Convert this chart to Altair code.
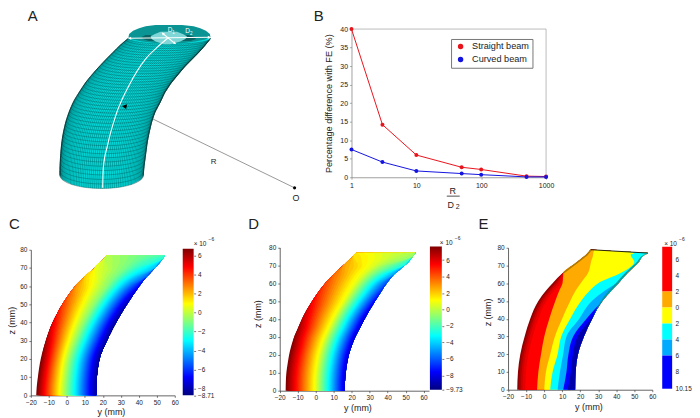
import numpy as np
import pandas as pd
import altair as alt

FONT = "Liberation Sans"
INK = "#222222"

# ---------- Panel B values ----------
b_ratio = [1, 3, 10, 50, 100, 500, 1000]
b_straight = [40, 14.2, 6.0, 2.7, 2.1, 0.3, 0.2]
b_curved = [7.5, 4.1, 1.7, 1.0, 0.7, 0.1, 0.1]

# ---------- Panel A outline (3x pixel units) ----------
a_rows = [108,130,150,170,190,210,240,270,300,330,360,390,420,450,480,505,522]
a_left = [388,362,342,322,303,285,260,240,222,209,199,192,187,184,182,181,181]
a_right = [636,618,600,580,560,543,518,498,484,468,458,451,445,441,437,434,433]
a_sag = [18,19,20,21,22,23,24,26,27,28,30,31,33,35,37,39,40]
a_foot_rows = [522,535,550,558,561,562]
a_foot_left = [181,188,217,252,280,307]
a_foot_right = [433,426,397,362,334,307]
a_top_rows = [68,72,78,85,95,105,112,118,124]
a_top_left = [470,440,420,402,390,388,400,430,480]
a_top_right = [550,585,605,622,634,636,620,590,545]
a_hole_rows = [88,95,102,110,118,126]
a_hole_left = [485,468,455,458,470,495]
a_hole_right = [535,552,565,560,545,515]
a_cres_rows = [98,104,110,116]
a_cres_left_l = [440,428,432,450]
a_cres_left_r = [455,462,470,468]
a_cres_right_l = [552,545,530,535]
a_cres_right_r = [570,588,592,575]
a_spine_x = [510,475,440,390,350,325,312,310]
a_spine_y = [105,135,170,250,340,430,500,560]

# ---------- Panels C and D: edges and field values per height ----------
z_rows = [0,5,10,15,20,25,30,35,40,45,50,55,60,65,70,75,77]
c_left = [-17,-16.7,-16.1,-15.4,-14.5,-13.2,-11.7,-10,-7.9,-5.4,-2.5,0.8,4.6,9.7,15.5,20.6,22.3]
c_right = [16.4,16.4,16.7,17.3,18.2,20,22.3,24.7,27.4,30.3,33.5,36.8,40.3,44.3,49,53.3,54.6]
c_vleft = [6.7,6.7,6.7,6.7,6.7,6.4,6,5.5,5,4.4,3.8,3.2,2.5,1.5,0.5,-0.2,-0.4]
c_vmid = [-1,-1,-1,-1,-1,-1,-1,-1,-1,-1,-1,-1,-1,-1.2,-1.2,-1.2,-1.2]
c_vright = [-8.5,-8.5,-8.5,-8.5,-8.5,-8.5,-8.5,-8.5,-8.5,-8.4,-8.2,-7.8,-7,-5.5,-4,-2.5,-2]
d_left = [-16.7,-16.6,-16.3,-15.6,-14.8,-13.6,-12,-9.8,-7.6,-5,-2,1.4,5.3,10,15.4,20.6,22.5]
d_right = [16.2,16.3,16.7,17.4,18.4,20,22,24.6,27.2,30,33,36.2,39.5,43.7,49.6,54,55.5]
d_vleft = [7.6,7.6,7.6,7.6,7.6,7.6,7.3,7,6.5,6,5.4,4.8,4.2,3.5,2.6,1.6,1.2]
d_vmid = [0.7,0.7,0.7,0.7,0.7,0.7,0.7,0.7,0.7,0.7,0.7,0.6,0.5,0.4,0.4,0.4,0.3]
d_vright = [-8.5,-8.5,-8.5,-8.5,-8.5,-8.5,-8.5,-8.5,-8.5,-8.2,-7.8,-7.2,-6.5,-5,-3,-0.8,-0.4]

# ---------- Panel E: contour positions per height ----------
e_z = [0,10,20,30,40,50,56,60,66,72,76,77,78,78.9]
e_left = [-14.9,-14.5,-13.2,-10.8,-7.7,-3.2,1.2,4.7,10.6,18.5,23.4,24.4,25.1,25.9]
e_orange = [-3.9,-3.2,-1.7,0.1,2.9,6.2,8.5,10.2,10.8,18.5,23.4,24.4,25.1,25.9]
e_yellow = [0.1,1,3.4,6,10,14.5,17.6,20.3,24.5,26,27.2,27.3,27.5,27.9]
e_cyan = [3.4,4.7,7.5,9.5,14.5,20.5,25.5,30,43,50,48,50,41,27.9]
e_lblue = [7.5,8.8,10.6,12.4,19.5,26.5,34,40,46.5,52.5,55.8,57.6,41,27.9]
e_blue = [10.6,12.4,13.5,16.1,23.5,32.3,37.5,41.2,46.5,52.5,55.8,57.6,41,27.9]
e_right = [17.2,17.5,18.8,22.1,26.7,32.3,37.5,41.2,46.5,52.5,55.8,57.6,41,27.9]
e_teal = [17.2,17.5,18.8,22.1,26.7,31.5,36,39.8,45.2,51.5,55.3,57.6,41,27.9]
e_top_y = [25.9, 57.6]
e_top_z = [78.9, 77]
e_edge_z = [66, 72, 76, 78.9]
e_edge_y = [10.9, 18.8, 23.7, 26.1]
e_bar_tops = [7.6, 2, 0, -2, -4, -6]
e_bar_bottoms = [2, 0, -2, -4, -6, -10.15]
e_bar_colors = ["#FF0000", "#FFAA00", "#FFFF00", "#00FFFF", "#00AAFF", "#0000FF"]


def jet(f):
    f = min(max(f, 0.0), 1.0)
    r = np.interp(f, [0, .375, .625, .875, 1], [0, 0, 1, 1, .5])
    g = np.interp(f, [0, .125, .375, .625, .875, 1], [0, 0, 1, 1, 0, 0])
    b = np.interp(f, [0, .125, .375, .625, 1], [.5, 1, 1, 0, 0])
    return "#%02x%02x%02x" % (int(r * 255), int(g * 255), int(b * 255))


JET_STOPS = [(0, "#00007f"), (.125, "#0000ff"), (.375, "#00ffff"),
             (.625, "#ffff00"), (.875, "#ff0000"), (1, "#7f0000")]


def field_table(left, right, vl, vm, vr, vmax, vmin):
    rows = []
    levels = np.arange(vmax, vmin - 0.01, -(vmax - vmin) / 60)
    for i, lev in enumerate(levels):
        col = jet((lev - vmin) / (vmax - vmin))
        for z, a, b, p, q, r in zip(z_rows, left, right, vl, vm, vr):
            f = float(np.interp(lev, [r, q, p], [1, .5, 0])) if lev >= r else 1.0
            rows.append({"z": z, "ya": a + (b - a) * f, "yb": b, "c": col})
    return pd.DataFrame(rows)


def z_axis(off, title_y, title_x):
    return alt.Axis(values=list(range(0, 81, 10)), title="z (mm)", offset=off,
                    titleY=title_y, titleX=title_x, grid=False)


def x_axis(title_x):
    return alt.Axis(values=list(range(-20, 61, 10)), title="y (mm)", titleX=title_x, grid=False)


def field_panel(df, w, h, xr, yr, xdom, title_x, title_y, off, ty_x):
    return alt.Chart(df).mark_area(orient="horizontal", strokeWidth=0, opacity=1, interpolate="monotone").encode(
        y=alt.Y("z:Q", scale=alt.Scale(domain=[0, 80], range=yr), axis=z_axis(off, title_y, ty_x)),
        x=alt.X("ya:Q", scale=alt.Scale(domain=xdom, range=xr), axis=x_axis(title_x), stack=None),
        x2="yb:Q",
        fill=alt.Fill("c:N", scale=None),
    ).properties(width=w, height=h)


def exponent(xt, yt):
    base = alt.Chart(pd.DataFrame({"a": [0]})).mark_text(
        text="× 10", font=FONT, fontSize=6.5, color=INK, align="left"
    ).encode(x=alt.value(xt), y=alt.value(yt))
    sup = alt.Chart(pd.DataFrame({"a": [0]})).mark_text(
        text="−6", font=FONT, fontSize=5, color=INK, align="left"
    ).encode(x=alt.value(xt + 15), y=alt.value(yt - 5))
    return base + sup


def jet_bar(w, h, yr, vmax, vmin, bar_w, ticks, off, xt, yt):
    grad = alt.Gradient(gradient="linear", x1=0, x2=0, y1=1, y2=0,
                        stops=[alt.GradientStop(color=c, offset=o) for o, c in JET_STOPS])
    bar = alt.Chart(pd.DataFrame({"lo": [vmin], "hi": [vmax]})).mark_rect(color=grad).encode(
        y=alt.Y("lo:Q", scale=alt.Scale(domain=[vmin, vmax], range=yr),
                axis=alt.Axis(orient="right", values=ticks, offset=off, title=None,
                              labelExpr="format(datum.value,'~g')", grid=False, domain=False)),
        y2="hi:Q",
        x=alt.value(0), x2=alt.value(bar_w),
    )
    return (bar + exponent(xt, yt)).properties(width=w, height=h)


def letter(t, x, y):
    return alt.Chart(pd.DataFrame({"a": [0]})).mark_text(
        text=t, font=FONT, fontSize=15, color=INK, align="left", baseline="alphabetic"
    ).encode(x=alt.value(x), y=alt.value(y))


# ---------- Panel A ----------
A_W, A_H = 302, 202
ax = alt.Scale(domain=[24, 24 + 3 * A_W], range=[0, A_W])
ay = alt.Scale(domain=[24, 24 + 3 * A_H], range=[0, A_H])
X = alt.X("x:Q", scale=ax, axis=None)
Y = alt.Y("y:Q", scale=ay, axis=None)


def a_area(rows, left, right, col, **kw):
    d = pd.DataFrame({"y": rows, "x": left, "x2": right})
    return alt.Chart(d).mark_area(orient="horizontal", color=col, strokeWidth=0, **kw).encode(
        y=Y, x=X, x2="x2:Q")


mesh_rows = []
ring_ys = []
yy = 522.0
while yy > 108:
    ring_ys.append(yy)
    yy -= 6.5 + 6.5 * (yy - 108) / 414
ring_ys.append(108.0)
thetas_long = np.linspace(0, np.pi, 66)
thetas_ring = np.linspace(0, np.pi, 26)


def a_pt(y0, th):
    l = np.interp(y0, a_rows, a_left)
    r = np.interp(y0, a_rows, a_right)
    s = np.interp(y0, a_rows, a_sag)
    return (l + r) / 2 + (r - l) / 2 * np.cos(th), y0 + s * np.sin(th)


k = 0
for y0 in ring_ys:
    for i, th in enumerate(thetas_ring):
        px, py = a_pt(y0, th)
        mesh_rows.append({"x": px, "y": py, "k": k, "o": i})
    k += 1
for th in thetas_long:
    for i, y0 in enumerate(ring_ys):
        px, py = a_pt(y0, th)
        mesh_rows.append({"x": px, "y": py, "k": k, "o": i})
    k += 1
mesh = alt.Chart(pd.DataFrame(mesh_rows)).mark_line(
    color="#004040", strokeWidth=0.42, opacity=0.8
).encode(x=X, y=Y, detail="k:N", order="o:Q")

body = a_area(a_rows + a_foot_rows[1:], a_left + a_foot_left[1:], a_right + a_foot_right[1:], "#00dcdc")
top = a_area(a_top_rows, a_top_left, a_top_right, "#0b9494")
hole = a_area(a_hole_rows, a_hole_left, a_hole_right, "#7fd6d6")
cres_l = a_area(a_cres_rows, a_cres_left_l, a_cres_left_r, "#0a6262")
cres_r = a_area(a_cres_rows, a_cres_right_l, a_cres_right_r, "#0a6262")


def a_line(xs, ys, col, w, interp="linear"):
    d = pd.DataFrame({"x": xs, "y": ys, "o": range(len(xs))})
    return alt.Chart(d).mark_line(color=col, strokeWidth=w, interpolate=interp).encode(x=X, y=Y, order="o:Q")


def a_marker(xs, ys, shape, col, size, angle=0):
    d = pd.DataFrame({"x": xs, "y": ys})
    return alt.Chart(d).mark_point(shape=shape, filled=True, color=col, size=size, angle=angle, opacity=1).encode(x=X, y=Y)


def a_text(t, x, y, size, col):
    d = pd.DataFrame({"x": [x], "y": [y]})
    return alt.Chart(d).mark_text(text=t, font=FONT, fontSize=size, color=col).encode(x=X, y=Y)


panel_a = alt.layer(
    body, mesh, top, cres_l, cres_r, hole,
    a_line(a_left, a_rows, "#052e2e", 0.8, "monotone"),
    a_line(a_right, a_rows, "#052e2e", 0.5, "monotone"),
    a_line(a_spine_x, a_spine_y, "white", 1.1, "monotone"),
    a_line([388, 636], [108, 105], "white", 1.1),
    a_line([490, 530], [92, 125], "white", 1.1),
    a_marker([392], [108], "triangle-left", "white", 10),
    a_marker([632], [105], "triangle-right", "white", 10),
    a_marker([492], [94], "triangle-up", "white", 10, 310),
    a_marker([528], [123], "triangle-down", "white", 10, 310),
    a_text("D", 514, 84, 6.5, "white"), a_text("1", 524, 92, 4.5, "white"),
    a_text("D", 567, 87, 6.5, "white"), a_text("2", 578, 96, 4.5, "white"),
    a_line([462, 890], [352, 560], "#8c8c8c", 0.9),
    a_marker([890], [560], "circle", "black", 10),
    a_marker([378], [314], "triangle", "black", 28, 160),
    a_text("R", 645, 482, 8, INK),
    a_text("O", 894, 590, 9, INK),
    letter("A", 20, 11),
).properties(width=A_W, height=A_H)

# ---------- Panel B ----------
B_W, B_H = 240, 168
b_df = pd.DataFrame({
    "r": b_ratio * 2,
    "v": b_straight + b_curved,
    "s": ["Straight beam"] * 7 + ["Curved beam"] * 7,
})
bx = alt.X("r:Q", scale=alt.Scale(type="log", domain=[1, 1000], range=[44, 240]),
           axis=alt.Axis(values=[1, 10, 100, 1000], format="d", title=None, grid=False,
                         domainColor="#777777", tickColor="#777777", labelFontSize=7))
by = alt.Y("v:Q", scale=alt.Scale(domain=[0, 40], range=[168, 18.7]),
           axis=alt.Axis(values=list(range(0, 41, 5)), title="Percentage difference with FE (%)",
                         offset=-44, grid=False, titleFontSize=9.2, titleX=-17.7,
                         domainColor="#777777", tickColor="#777777", labelFontSize=7))
bc = alt.Color("s:N", scale=alt.Scale(domain=["Straight beam", "Curved beam"], range=["#e8141c", "#1414e0"]),
               legend=alt.Legend(title=None, orient="none", legendX=446.3, legendY=28.7,
                                 strokeColor="#777777", fillColor="white", padding=3,
                                 labelFont=FONT, labelFontSize=9.2, labelColor=INK, symbolType="circle",
                                 symbolSize=16, rowPadding=2, labelOffset=7, symbolOffset=2))
b_line = alt.Chart(b_df).mark_line(strokeWidth=1).encode(x=bx, y=by, color=bc, detail="s:N")
b_pts = alt.Chart(b_df).mark_point(filled=True, size=16, opacity=1).encode(x=bx, y=by, color=bc)


def b_rule(x0, x1, y0, y1, col="#aaaaaa", w=0.8):
    return alt.Chart(pd.DataFrame({"a": [0]})).mark_rule(color=col, strokeWidth=w).encode(
        x=alt.value(x0), x2=alt.value(x1), y=alt.value(y0), y2=alt.value(y1))


def b_text(t, x, y, size, align="center"):
    return alt.Chart(pd.DataFrame({"a": [0]})).mark_text(
        text=t, font=FONT, fontSize=size, color=INK, align=align
    ).encode(x=alt.value(x), y=alt.value(y))


panel_b = alt.layer(
    b_rule(44, 240, 18.7, 18.7),
    b_rule(240, 240, 18.7, 168),
    b_line, b_pts,
    b_rule(140, 153, 187, 187, INK, 0.8),
    b_text("R", 146, 182, 9),
    b_text("D", 144, 196, 9),
    b_text("2", 151, 198, 7),
    letter("B", 6, 11),
).properties(width=B_W, height=B_H)

# ---------- Panels C, D, E ----------
c_df = field_table(c_left, c_right, c_vleft, c_vmid, c_vright, 6.7, -8.71)
d_df = field_table(d_left, d_right, d_vleft, d_vmid, d_vright, 7.65, -9.73)

panel_c = alt.layer(
    field_panel(c_df, 176, 185.7, [23, 168], [185.7, 39], [-20, 60], 103.7, 110, -23, -14),
    letter("C", 1, 18),
).properties(width=176, height=185.7)
bar_c = jet_bar(49, 185.7, [185.7, 38], 6.7, -8.71, 11, [6, 4, 2, 0, -2, -4, -6, -8, -8.71], -38, 11, 33)

panel_d = alt.layer(
    field_panel(d_df, 200, 181, [48.7, 199.1], [181, 36.7], [-20, 63], 127, 103.3, -48.7, -17.2),
    letter("D", 17, 18),
).properties(width=200, height=181)
bar_d = jet_bar(47, 181, [180, 35.7], 7.65, -9.73, 12, [6, 4, 2, 0, -2, -4, -6, -8, -9.73], -35, 10, 32)

E_XS = alt.Scale(domain=[-20, 60], range=[31.7, 177])
E_YS = alt.Scale(domain=[0, 80], range=[180, 37])
e_sets = [("d0", "#900000", e_left), ("d1", "#b00000", [a + 1 for a in e_left]),
          ("d2", "#d00000", [a + 2 for a in e_left]), ("d3", "#e80000", [a + 3 for a in e_left]),
          ("d4", "#ff0000", [a + 4.5 for a in e_left]), ("o", "#ffaa00", e_orange),
          ("y", "#ffff00", e_yellow), ("c", "#00ffff", e_cyan), ("lb", "#00aaff", e_lblue),
          ("b", "#0000ff", e_blue), ("b2", "#0000aa", [min(a + 2.5, r) for a, r in zip(e_blue, e_right)]),
          ("t", "#009c9c", e_teal)]
e_rows = []
for name, col, pos in e_sets:
    for z, a, o, r in zip(e_z, pos, e_orange, e_right):
        lim = o if name.startswith("d") else r
        e_rows.append({"z": z, "ya": min(a, lim), "yb": r, "c": col})
e_df = pd.DataFrame(e_rows)
e_shape = field_panel(e_df, 187, 180, [31.7, 177], [180, 37], [-20, 60], 112.7, 101.7, -31.7, -15.7)


def e_path(ys, zs, col, w):
    d = pd.DataFrame({"ya": ys, "z": zs})
    return alt.Chart(d).mark_line(color=col, strokeWidth=w).encode(
        x=alt.X("ya:Q", scale=E_XS, axis=x_axis(112.7)),
        y=alt.Y("z:Q", scale=E_YS, axis=z_axis(-31.7, 101.7, -15.7)))


panel_e = alt.layer(
    e_shape,
    e_path(e_edge_y, e_edge_z, "#b07a00", 1.6),
    e_path(e_top_y, e_top_z, "#111111", 0.9),
    letter("E", 2, 18),
).properties(width=187, height=180)

e_bar_df = pd.DataFrame({"hi": e_bar_tops, "lo": e_bar_bottoms, "c": e_bar_colors})
bar_e_rect = alt.Chart(e_bar_df).mark_rect().encode(
    y=alt.Y("lo:Q", scale=alt.Scale(domain=[-10.15, 7.6], range=[179, 36]),
            axis=alt.Axis(orient="right", values=[6, 4, 2, 0, -2, -4, -6, -8, -10.15],
                          labelExpr="format(abs(datum.value),'~g')", offset=-15, title=None,
                          grid=False, domain=False, ticks=False, labelPadding=3)),
    y2="hi:Q",
    x=alt.value(0), x2=alt.value(10),
    color=alt.Color("c:N", scale=None),
)
bar_e = (bar_e_rect + exponent(2, 33)).properties(width=25, height=179)

top_row = alt.hconcat(panel_a, panel_b, spacing=0, bounds="flush")
bottom_row = alt.hconcat(panel_c, bar_c, panel_d, bar_d, panel_e, bar_e, spacing=0, bounds="flush")
chart = alt.vconcat(top_row, bottom_row, spacing=0, bounds="full").properties(
    padding=0
).configure_view(stroke=None).configure_axis(
    labelFont=FONT, titleFont=FONT, labelFontSize=6.5, titleFontSize=9, titleFontWeight="normal",
    labelColor=INK, titleColor=INK, domainColor="#222222", tickColor="#222222",
    domainWidth=0.7, tickWidth=0.6, tickSize=2, labelPadding=2, titlePadding=2,
    labelFlush=False, labelOverlap=False,
)
chart.save("out.html", embed_options={"renderer": "svg", "actions": False})
